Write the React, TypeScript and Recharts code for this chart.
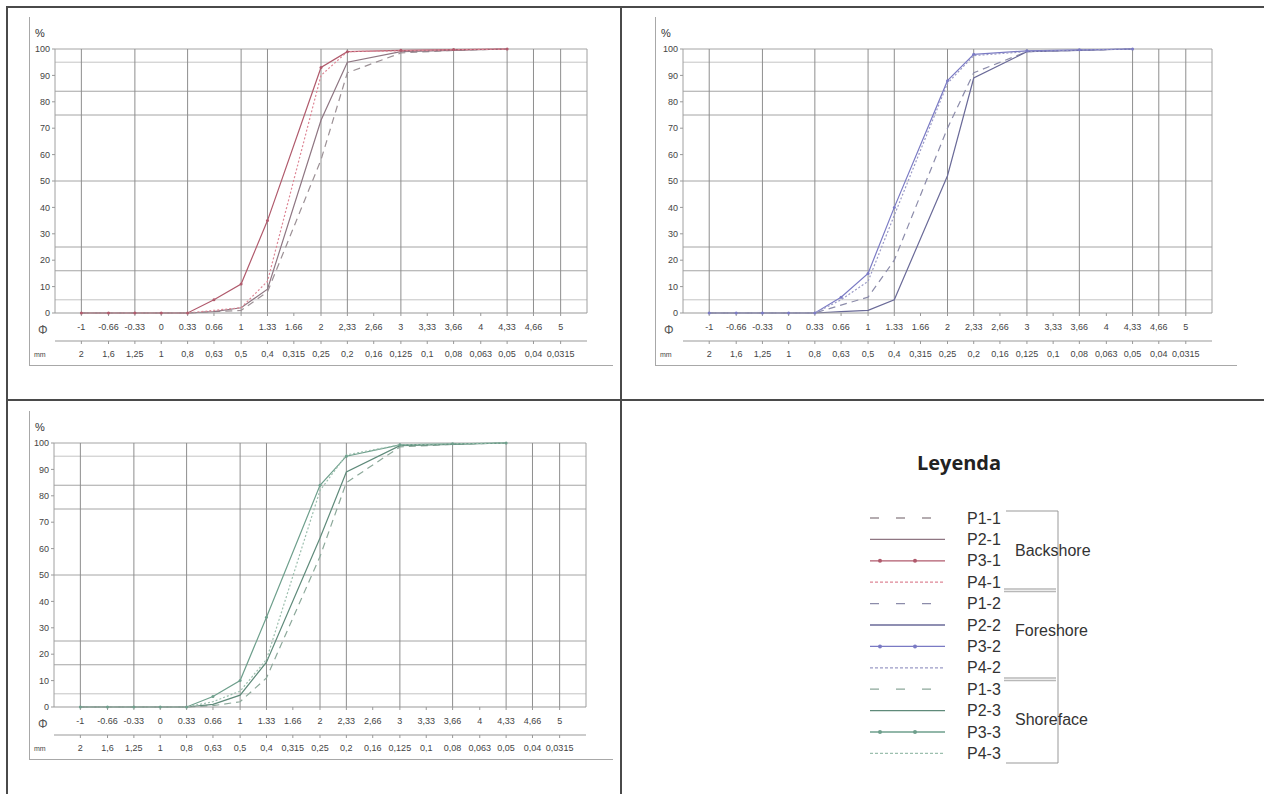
import { LineChart, Line, XAxis, YAxis, ReferenceLine } from 'recharts';

// sieve points in phi units (same for every sample)
const PHI = [-1, -0.66, -0.33, 0, 0.33, 0.66, 1, 1.33, 2, 2.33, 3, 3.66, 4.33];

// cumulative % retained
const P1_1 = [0, 0, 0, 0, 0, 0.5, 1, 8, 58, 91, 98.5, 99.5, 100];
const P2_1 = [0, 0, 0, 0, 0, 0.5, 2, 9, 73, 95, 99, 99.5, 100];
const P3_1 = [0, 0, 0, 0, 0, 5, 11, 35, 93, 99, 99.5, 99.8, 100];
const P4_1 = [0, 0, 0, 0, 0, 1, 2, 12, 90, 99, 99.3, 99.7, 100];

const P1_2 = [0, 0, 0, 0, 0, 3, 6, 20, 70, 91, 99, 99.5, 100];
const P2_2 = [0, 0, 0, 0, 0, 0.5, 1, 5, 52, 89, 99, 99.5, 100];
const P3_2 = [0, 0, 0, 0, 0, 6, 15, 40, 88, 98, 99.3, 99.7, 100];
const P4_2 = [0, 0, 0, 0, 0, 5, 12, 37, 87, 97.5, 99, 99.6, 100];

const P1_3 = [0, 0, 0, 0, 0, 0.5, 2, 11, 57, 85, 98.5, 99.5, 100];
const P2_3 = [0, 0, 0, 0, 0, 1, 4.5, 17, 64, 89, 99, 99.5, 100];
const P3_3 = [0, 0, 0, 0, 0, 4, 10, 34, 84, 95, 99.3, 99.7, 100];
const P4_3 = [0, 0, 0, 0, 0, 2, 6, 18, 82, 95.5, 99.3, 99.7, 100];

// axes
const PHI_TICKS = [-1, -0.66, -0.33, 0, 0.33, 0.66, 1, 1.33, 1.66, 2, 2.33, 2.66, 3, 3.33, 3.66, 4, 4.33, 4.66, 5];
const PHI_LABELS = ['-1', '-0.66', '-0.33', '0', '0.33', '0.66', '1', '1.33', '1.66', '2', '2,33', '2,66', '3', '3,33', '3,66', '4', '4,33', '4,66', '5'];
const MM_LABELS = ['2', '1,6', '1,25', '1', '0,8', '0,63', '0,5', '0,4', '0,315', '0,25', '0,2', '0,16', '0,125', '0,1', '0,08', '0,063', '0,05', '0,04', '0,0315'];
const Y_TICKS = [0, 10, 20, 30, 40, 50, 60, 70, 80, 90, 100];
const GRID_X = [-1, -0.33, 0.33, 1, 1.33, 2, 2.33, 3, 3.66, 4.33, 4.66, 5];
const GRID_Y = [5, 16, 25, 50, 75, 84, 95, 100];
const X_DOMAIN = [-1.33, 5.33];

const GROUPS = ['Backshore', 'Foreshore', 'Shoreface'];

const FONT = '"Liberation Sans", Arial, sans-serif';

type Style = 'dash' | 'solid' | 'marker' | 'dot';
interface Serie { name: string; values: number[]; color: string; style: Style }

const BACKSHORE: Serie[] = [
  { name: 'P1-1', values: P1_1, color: '#9c9196', style: 'dash' },
  { name: 'P2-1', values: P2_1, color: '#8e7682', style: 'solid' },
  { name: 'P3-1', values: P3_1, color: '#b05a6c', style: 'marker' },
  { name: 'P4-1', values: P4_1, color: '#de8796', style: 'dot' },
];
const FORESHORE: Serie[] = [
  { name: 'P1-2', values: P1_2, color: '#8c8caa', style: 'dash' },
  { name: 'P2-2', values: P2_2, color: '#6a6a98', style: 'solid' },
  { name: 'P3-2', values: P3_2, color: '#7a7ac4', style: 'marker' },
  { name: 'P4-2', values: P4_2, color: '#9a9ac6', style: 'dot' },
];
const SHOREFACE: Serie[] = [
  { name: 'P1-3', values: P1_3, color: '#8ca89a', style: 'dash' },
  { name: 'P2-3', values: P2_3, color: '#5f8a7a', style: 'solid' },
  { name: 'P3-3', values: P3_3, color: '#6e9f8c', style: 'marker' },
  { name: 'P4-3', values: P4_3, color: '#9cbfae', style: 'dot' },
];

function lineStyle(s: Serie) {
  if (s.style === 'dash') return { strokeDasharray: '7 5', dot: false };
  if (s.style === 'dot') return { strokeDasharray: '2 2', dot: false };
  if (s.style === 'marker') return { dot: { r: 1.5, fill: s.color, stroke: s.color, strokeWidth: 0 } };
  return { dot: false };
}

const tickStyle = { fontSize: 9, fill: '#444', fontFamily: FONT };

function CurveChart({ left, top, width, yWidth, right, series }: {
  left: number; top: number; width: number; yWidth: number; right: number; series: Serie[];
}) {
  const data = PHI.map((phi, i) => {
    const row: Record<string, number> = { phi };
    series.forEach(s => { row[s.name] = s.values[i]; });
    return row;
  });
  const height = 349;

  return (
    <div style={{ position: 'absolute', left, top, width, height }}>
      {/* chart frame */}
      <div style={{ position: 'absolute', left: 0, top: 0, width: 1, height, background: '#a8a8a8' }} />
      <div style={{ position: 'absolute', left: 0, top: height - 1, width, height: 1, background: '#a8a8a8' }} />
      <LineChart width={width} height={height} data={data} margin={{ top: 32, right, left: 0, bottom: 3 }}>
        {/* phi scale next to the plot ("a"), mm scale below it ("b") */}
        <XAxis xAxisId="a" dataKey="phi" type="number" domain={X_DOMAIN} ticks={PHI_TICKS} interval={0}
          allowDataOverflow height={28} tickSize={3} tickMargin={8}
          tickFormatter={(v: number) => PHI_LABELS[PHI_TICKS.indexOf(v)]}
          tick={tickStyle} axisLine={{ stroke: '#999' }} tickLine={{ stroke: '#999' }} />
        <XAxis xAxisId="b" dataKey="phi" type="number" domain={X_DOMAIN} ticks={PHI_TICKS} interval={0}
          allowDataOverflow height={22} tickSize={3} tickMargin={7}
          tickFormatter={(v: number) => MM_LABELS[PHI_TICKS.indexOf(v)]}
          tick={tickStyle} axisLine={{ stroke: '#999' }} tickLine={{ stroke: '#999' }} />
        <YAxis type="number" domain={[0, 100]} ticks={Y_TICKS} interval={0} width={yWidth}
          tickSize={3} tickMargin={2} tick={tickStyle} axisLine={false} tickLine={{ stroke: '#999' }} />

        {GRID_Y.map(v => (
          <ReferenceLine key={'h' + v} xAxisId="a" y={v}
            stroke={v === 5 || v === 95 ? '#c4c4c4' : '#a4a4a4'} />
        ))}
        {GRID_X.map(v => (
          <ReferenceLine key={'v' + v} xAxisId="a" x={v} stroke="#8e8e8e" />
        ))}
        <ReferenceLine xAxisId="a" x={X_DOMAIN[0]} stroke="#a0a0a0" />
        <ReferenceLine xAxisId="a" x={X_DOMAIN[1]} stroke="#a0a0a0" />

        {series.map(s => (
          <Line key={s.name} xAxisId="a" type="linear" dataKey={s.name} stroke={s.color}
            strokeWidth={1.2} isAnimationActive={false} {...lineStyle(s)} />
        ))}
      </LineChart>
      <div style={{ position: 'absolute', left: 6, top: 10, fontSize: 11, fontFamily: FONT, color: '#333' }}>%</div>
      <div style={{ position: 'absolute', left: 9, top: 306, fontSize: 12, fontFamily: FONT, color: '#555' }}>Φ</div>
      <div style={{ position: 'absolute', left: 5, top: 334, fontSize: 7, fontFamily: FONT, color: '#444' }}>mm</div>
    </div>
  );
}

function LegendPanel() {
  const all = [...BACKSHORE, ...FORESHORE, ...SHOREFACE];
  const rowY = (i: number) => 518 + i * 21.4;
  return (
    <svg width={642} height={394} style={{ position: 'absolute', left: 622, top: 400 }}>
      <g transform="translate(-622,-400)" fontFamily={FONT}>
        <text x={959} y={470} textAnchor="middle" fontSize={20} fontWeight="bold"
          fontFamily='"Open Sans", "Noto Sans", sans-serif' fill="#222">Leyenda</text>
        {all.map((s, i) => {
          const y = rowY(i);
          return (
            <g key={s.name}>
              <line x1={870} x2={945} y1={y} y2={y} stroke={s.color} strokeWidth={1.3}
                strokeDasharray={s.style === 'dash' ? '9 17' : s.style === 'dot' ? '3 2' : undefined} />
              {s.style === 'marker' && [880, 915].map(mx => (
                <circle key={mx} cx={mx} cy={y} r={2} fill={s.color} />
              ))}
              <text x={967} y={y + 5.5} fontSize={16} fill="#333">{s.name}</text>
            </g>
          );
        })}
        {/* group brackets */}
        <line x1={1006} x2={1058} y1={511} y2={511} stroke="#999" />
        <line x1={1058} x2={1058} y1={511} y2={763} stroke="#999" />
        <line x1={1006} x2={1058} y1={763} y2={763} stroke="#999" />
        {[590, 679].map(y => (
          <g key={y}>
            <line x1={1004} x2={1056} y1={y - 1} y2={y - 1} stroke="#b8b8b8" strokeWidth={1.5} />
            <line x1={1004} x2={1056} y1={y + 1.5} y2={y + 1.5} stroke="#b8b8b8" strokeWidth={1.5} />
          </g>
        ))}
        {GROUPS.map((g, i) => (
          <text key={g} x={1015} y={[556, 636, 725][i]} fontSize={16} fill="#333">{g}</text>
        ))}
      </g>
    </svg>
  );
}

export default function App() {
  return (
    <div style={{ position: 'absolute', left: 0, top: 0, width: 1264, height: 794, background: '#fff', overflow: 'hidden' }}>
      <CurveChart left={29} top={17} width={584} yWidth={26} right={26} series={BACKSHORE} />
      <CurveChart left={655} top={17} width={582} yWidth={28} right={25} series={FORESHORE} />
      <CurveChart left={29} top={411} width={584} yWidth={25} right={27} series={SHOREFACE} />
      <LegendPanel />

      {/* table borders */}
      <div style={{ position: 'absolute', left: 7, top: 6, width: 1257, height: 2, background: '#4a4a4a' }} />
      <div style={{ position: 'absolute', left: 6, top: 6, width: 2, height: 788, background: '#4a4a4a' }} />
      <div style={{ position: 'absolute', left: 620, top: 6, width: 2, height: 788, background: '#4a4a4a' }} />
      <div style={{ position: 'absolute', left: 7, top: 399, width: 1257, height: 2, background: '#4a4a4a' }} />
    </div>
  );
}
